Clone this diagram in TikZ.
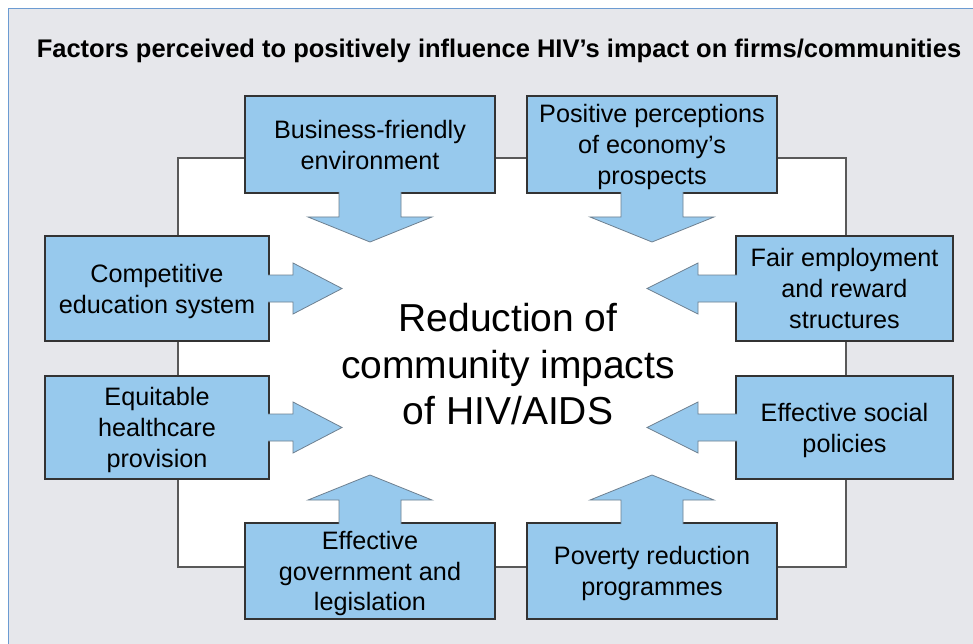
\documentclass[tikz,border=0pt]{standalone}
\usepackage{fontspec}
\setmainfont{Liberation Sans}
\usetikzlibrary{calc}
\definecolor{panelgray}{HTML}{E6E7EB}
\definecolor{frameblue}{HTML}{6C9BD2}
\definecolor{boxblue}{HTML}{97C9ED}
\definecolor{edgegray}{HTML}{6E8090}
\tikzset{
  factor/.style={draw=black!80, line width=1.1pt, fill=boxblue, inner sep=0pt, outer sep=0pt,
    align=center, font=\fontsize{25.2}{30.8}\selectfont, text depth=-4pt},
  topbox/.style={factor, minimum width=250pt, minimum height=97pt},
  leftbox/.style={factor, minimum width=224pt, minimum height=105pt},
  rightbox/.style={factor, minimum width=217pt, minimum height=105pt},
  blockarrow/.style={fill=boxblue, draw=edgegray, line width=.8pt, line join=miter},
  hub/.style={align=center, font=\fontsize{39}{46.5}\selectfont},
}
\begin{document}
\begin{tikzpicture}[x=1pt, y=-1pt]
	\useasboundingbox (0,0) rectangle (973,644);
	\fill[white]     (0,0) rectangle (973,644);
	\fill[panelgray] (8,9) rectangle (973,644);
	\draw[frameblue, line width=1pt] (8,644) -- (8,9) -- (973,9);
	\node[font=\bfseries\fontsize{25.5}{30}\selectfont] (title) at (499,51) {Factors perceived to positively influence HIV’s impact on firms/communities};
	\filldraw[fill=white, draw=black!65, line width=1.1pt] (178,158) rectangle (846,567);
	%the eight factors
	\node[topbox]   (biz)    at (370,144.5) {Business-friendly\\environment};
	\node[topbox]   (econ)   at (652,144.5) {Positive perceptions\\of economy’s\\prospects};
	\node[leftbox]  (edu)    at (157,288.5) {Competitive\\education system};
	\node[rightbox] (fair)   at (844.5,288.5) {Fair employment\\and reward\\structures};
	\node[leftbox, minimum height=103pt]  (health) at (157,427.5) {Equitable\\healthcare\\provision};
	\node[rightbox, minimum height=103pt] (social) at (844.5,427.5) {Effective social\\policies};
	\node[topbox, minimum height=96pt]    (gov)    at (370,571) {Effective\\government and\\legislation};
	\node[topbox, minimum height=96pt]    (pov)    at (652,571) {Poverty reduction\\programmes};
	\node[hub] (result) at (508,364.5) {Reduction of\\community impacts\\of HIV/AIDS};
	%block arrows, open at the box edge
	\filldraw[blockarrow] ($(biz.south)+(-31,-1)$)   -- ++(0,25)   -- ++(-31,0) -- ++(62,25)    -- ++(62,-25)   -- ++(-31,0) -- ++(0,-25);
	\filldraw[blockarrow] ($(econ.south)+(-31,-1)$)  -- ++(0,25)   -- ++(-31,0) -- ++(62,25)    -- ++(62,-25)   -- ++(-31,0) -- ++(0,-25);
	\filldraw[blockarrow] ($(gov.north)+(-31,1)$)    -- ++(0,-24)  -- ++(-31,0) -- ++(62,-25)   -- ++(62,25)    -- ++(-31,0) -- ++(0,24);
	\filldraw[blockarrow] ($(pov.north)+(-31,1)$)    -- ++(0,-24)  -- ++(-31,0) -- ++(62,-25)   -- ++(62,25)    -- ++(-31,0) -- ++(0,24);
	\filldraw[blockarrow] ($(edu.east)+(-1,-13.5)$)    -- ++(25,0)  -- ++(0,-12) -- ++(49,25.5)  -- ++(-49,25.5) -- ++(0,-12) -- ++(-25,0);
	\filldraw[blockarrow] ($(health.east)+(-1,-13.5)$) -- ++(25,0)  -- ++(0,-12) -- ++(49,25.5)  -- ++(-49,25.5) -- ++(0,-12) -- ++(-25,0);
	\filldraw[blockarrow] ($(fair.west)+(1,-13.5)$)    -- ++(-39,0) -- ++(0,-12) -- ++(-51,25.5) -- ++(51,25.5)  -- ++(0,-12) -- ++(39,0);
	\filldraw[blockarrow] ($(social.west)+(1,-13.5)$)  -- ++(-39,0) -- ++(0,-12) -- ++(-51,25.5) -- ++(51,25.5)  -- ++(0,-12) -- ++(39,0);
\end{tikzpicture}
\end{document}
